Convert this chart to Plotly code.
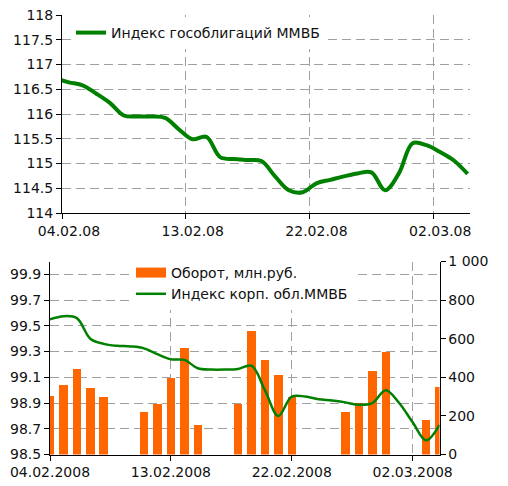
import plotly.graph_objects as go
import pandas as pd

# ---------------- data ----------------
# Top chart: Индекс гособлигаций ММВБ (calendar days)
gov_dates = pd.date_range("2008-02-03", "2008-03-04", freq="D")
gov_values = [116.72, 116.64, 116.58, 116.41, 116.22, 115.97, 115.95, 115.95,
              115.92, 115.69, 115.49, 115.54, 115.13, 115.09, 115.07, 115.05,
              114.74, 114.46, 114.42, 114.60, 114.67, 114.74, 114.80, 114.82,
              114.46, 114.80, 115.41, 115.37, 115.23, 115.06, 114.79]
top_tick_dates = ["2008-02-04", "2008-02-13", "2008-02-22", "2008-03-02"]
top_tick_labels = ["04.02.08", "13.02.08", "22.02.08", "02.03.08"]
top_y_ticks = [114, 114.5, 115, 115.5, 116, 116.5, 117, 117.5, 118]

# Bottom chart: Индекс корп. обл.ММВБ (calendar days)
corp_dates = pd.date_range("2008-02-04", "2008-03-04", freq="D")
corp_values = [99.55, 99.575, 99.56, 99.40, 99.36, 99.345, 99.34, 99.325,
               99.28, 99.24, 99.235, 99.17, 99.16, 99.16, 99.165, 99.19,
               99.00, 98.80, 98.95, 98.95, 98.93, 98.92, 98.905, 98.886,
               98.90, 99.00, 98.90, 98.75, 98.61, 98.73]

# Оборот, млн.руб. (trading days)
trade_dates = ["2008-02-04", "2008-02-05", "2008-02-06", "2008-02-07", "2008-02-08",
               "2008-02-11", "2008-02-12", "2008-02-13", "2008-02-14", "2008-02-15",
               "2008-02-18", "2008-02-19", "2008-02-20", "2008-02-21", "2008-02-22",
               "2008-02-26", "2008-02-27", "2008-02-28", "2008-02-29",
               "2008-03-03", "2008-03-04"]
turnover = [306, 362, 445, 346, 301,
            225, 263, 398, 557, 156,
            263, 640, 490, 415, 300,
            225, 270, 436, 535,
            180, 353]
bottom_tick_dates = ["2008-02-04", "2008-02-13", "2008-02-22", "2008-03-02"]
bottom_tick_labels = ["04.02.2008", "13.02.2008", "22.02.2008", "02.03.2008"]
left_ticks = [98.5, 98.7, 98.9, 99.1, 99.3, 99.5, 99.7, 99.9]
right_ticks = [0, 200, 400, 600, 800, 1000]
right_tick_labels = ["0", "200", "400", "600", "800", "1 000"]

# ---------------- styling ----------------
PAGE_OFF = 8                     # default page margin around the plot div
W, H = 508 - PAGE_OFF, 486 - PAGE_OFF
GREEN = "#008000"
ORANGE = "#FF6600"
GRID = "#A0A0A0"
FONT = dict(family="DejaVu Sans", size=14, color="#111111")

def px_x(p):
    return (p - PAGE_OFF) / W

def px_y(p):
    return 1 - (p - PAGE_OFF) / H

# top day points sit in the middle of each day band
gov_x = gov_dates + pd.Timedelta(hours=12)

fig = go.Figure()
fig.add_trace(go.Scatter(
    x=gov_x, y=gov_values, mode="lines", name="Индекс гособлигаций ММВБ",
    line=dict(color=GREEN, width=4, shape="spline"),
    xaxis="x", yaxis="y", legend="legend"))

fig.add_trace(go.Bar(
    x=trade_dates, y=turnover, marker=dict(color=ORANGE, line=dict(width=0)),
    width=0.63 * 86400000, xaxis="x2", yaxis="y3", showlegend=False,
    name="Оборот, млн.руб."))
# legend swatch for the bars
fig.add_trace(go.Scatter(
    x=[None], y=[None], mode="lines", name="Оборот, млн.руб.",
    line=dict(color=ORANGE, width=10), xaxis="x2", yaxis="y3",
    legend="legend2"))
fig.add_trace(go.Scatter(
    x=corp_dates, y=corp_values, mode="lines", name="Индекс корп. обл.ММВБ",
    line=dict(color=GREEN, width=2.5, shape="spline"),
    xaxis="x2", yaxis="y4", legend="legend2"))

axis_common = dict(showline=True, linecolor="black", linewidth=1,
                   ticks="outside", ticklen=5, tickcolor="black", tickwidth=1,
                   tickfont=FONT, zeroline=False, automargin=False,
                   ticklabeloverflow="allow")
grid = dict(showgrid=True, gridcolor=GRID, gridwidth=1, griddash="9px,5px")

fig.update_layout(
    width=W, height=H, margin=dict(l=0, r=0, t=0, b=0, autoexpand=False),
    paper_bgcolor="white", plot_bgcolor="rgba(0,0,0,0)",
    font=FONT, bargap=0,
    xaxis=dict(domain=[px_x(62), px_x(470)], anchor="y", type="date",
               range=["2008-02-04 00:00", "2008-03-04 16:09"],
               tickmode="array", tickvals=top_tick_dates, ticktext=top_tick_labels,
               ticklabelshift=7, **axis_common, **grid),
    yaxis=dict(domain=[px_y(213), px_y(15)], anchor="x", range=[114, 118.0001],
               tickmode="array", tickvals=top_y_ticks,
               ticktext=[f"{v:g}" for v in top_y_ticks],
               **axis_common, **grid),
    xaxis2=dict(domain=[px_x(50), px_x(439.5)], anchor="y3", type="date",
                range=["2008-02-04", "2008-03-04"],
                tickmode="array", tickvals=bottom_tick_dates, ticktext=bottom_tick_labels,
                **axis_common, **grid),
    yaxis3=dict(domain=[px_y(454.5), px_y(261.5)], anchor="x2", side="right",
                range=[0, 1000], tickmode="array", tickvals=right_ticks,
                ticktext=right_tick_labels, showgrid=False, **axis_common),
    yaxis4=dict(overlaying="y3", anchor="x2", side="left", range=[98.5, 100],
                tickmode="array", tickvals=left_ticks,
                ticktext=[f"{v:.1f}" for v in left_ticks],
                **axis_common, **grid),
    legend=dict(x=px_x(71), y=px_y(17), xanchor="left", yanchor="top",
                bgcolor="white", borderwidth=0, font=FONT, itemwidth=30,
                itemclick=False),
    legend2=dict(x=px_x(131), y=px_y(257), xanchor="left", yanchor="top",
                 bgcolor="white", borderwidth=0, font=FONT, itemwidth=30,
                 traceorder="normal"),
)

fig.write_html("out.html")
